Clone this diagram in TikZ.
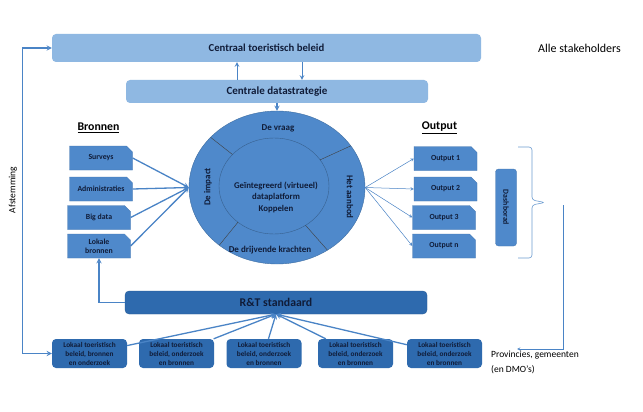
\documentclass[tikz,border=0pt]{standalone}
\usepackage{fontspec}
\setmainfont{Carlito}
\usetikzlibrary{shapes.geometric,shapes.misc,arrows,calc}
\definecolor{paleblue}{RGB}{143,184,226}
\definecolor{midblue}{RGB}{79,137,203}
\definecolor{darkblue}{RGB}{46,106,174}
\definecolor{linkblue}{RGB}{74,132,198}
\definecolor{inktext}{RGB}{16,28,56}

\begin{document}
\begin{tikzpicture}[x=1pt,y=-1pt,
  govbox/.style={fill=paleblue,rounded corners=4pt,inner sep=0pt,align=center,text=inktext,font=\bfseries\fontsize{10.7}{12}\selectfont},
  srcbox/.style={chamfered rectangle,chamfered rectangle corners=north east,chamfered rectangle sep=3pt,fill=midblue,draw=midblue!85!black,line width=0.3pt,minimum width=63pt,minimum height=24pt,inner sep=0pt,align=center,text=inktext,font=\bfseries\fontsize{7.8}{9}\selectfont},
  stdbox/.style={fill=darkblue,draw=darkblue!85!black,line width=0.3pt,rounded corners=4pt,minimum width=302pt,minimum height=23pt,inner sep=0pt,text=inktext,font=\bfseries\fontsize{11.8}{13}\selectfont},
  localbox/.style={fill=darkblue,rounded corners=4pt,minimum width=75pt,minimum height=29pt,inner sep=0pt,align=center,text=inktext,font=\bfseries\fontsize{7.3}{9}\selectfont},
  seclab/.style={text=inktext,inner sep=1pt,font=\bfseries\fontsize{9}{10.5}\selectfont},
  head/.style={inner sep=1pt,font=\bfseries\fontsize{11.8}{14}\selectfont},
  note/.style={inner sep=0pt,font=\fontsize{10.5}{15}\selectfont},
  arr/.style={->,>=stealth,draw=linkblue,line width=1.3pt},
  thinarr/.style={->,>=stealth,draw=linkblue,line width=0.5pt},
  brc/.style={draw=linkblue!80,line width=0.6pt},
  divl/.style={draw=black!75,line width=0.4pt}
]
\useasboundingbox[fill=white] (0,0) rectangle (643,412);
% Central level
\node[govbox,minimum width=429pt,minimum height=28pt] (ctb) at (266.5,48) {Centraal toeristisch beleid};
\node[govbox,minimum width=302pt,minimum height=23pt,font=\bfseries\fontsize{11}{12}\selectfont] (cds) at (277,91.5) {Centrale datastrategie};
\node[note,anchor=west,font=\fontsize{12}{14}\selectfont] (alle) at (538,48) {Alle stakeholders};

% Data platform
\node[ellipse,fill=midblue,draw=midblue!80!black,line width=0.4pt,minimum width=176pt,minimum height=153pt,inner sep=0pt] (plat) at (277,187.5) {};
\node[ellipse,draw=midblue!70!black,line width=0.4pt,minimum width=110pt,minimum height=96pt,inner sep=0pt] (core) at (274,186) {};
\foreach \a in {55,131,221,327}
  \draw[divl] ($(core.center)+(\a:55 and 48)$) -- ($(plat.center)+(\a:88 and 76.5)$);
\node[seclab,align=center,font=\bfseries\fontsize{8.8}{11.5}\selectfont] (coretxt) at (276,197) {Geïntegreerd (virtueel)\\dataplatform\\Koppelen};
\node[seclab] (vraag)  at (278,128) {De vraag};
\node[seclab,rotate=-90] (aanbod) at (350,197) {Het aanbod};
\node[seclab,rotate=90]  (impact) at (208,187) {De impact};
\node[seclab] (kracht) at (270,250) {De drijvende krachten};

% Bronnen
\node[head] (bron) at (98.5,128) {\underline{Bronnen}};
\node[srcbox] (srv) at (101,158)   {Surveys};
\node[srcbox] (adm) at (101,189)   {Administraties};
\node[srcbox] (big) at (99,217.5)  {Big data};
\node[srcbox] (lok) at (99,246)    {Lokale\\bronnen};

% Output
\node[head] (outp) at (439.5,128) {\underline{Output}};
\node[srcbox] (o1) at (445.5,158.5) {Output 1};
\node[srcbox] (o2) at (445.5,189)   {Output 2};
\node[srcbox] (o3) at (444,217.5)   {Output 3};
\node[srcbox] (on) at (444,246)     {Output n};
\node[fill=midblue,draw=midblue!85!black,line width=0.3pt,rounded corners=3pt,rotate=-90,minimum width=77pt,minimum height=21pt,inner sep=0pt,text=inktext,font=\bfseries\fontsize{7.8}{9}\selectfont] (dash) at (506,207.5) {Dashborad};
\draw[brc,rounded corners=3pt] (518,147) -- (532,147) -- (532,200) -- (545,202.5) -- (532,205) -- (532,258) -- (518,258);

% Standard and local level
\node[stdbox] (rt) at (276,302.5) {R\&T standaard};
\node[localbox] (lb1) at (89.5,353.5)  {Lokaal toeristisch\\beleid, bronnen\\en onderzoek};
\node[localbox] (lb2) at (176.5,353.5) {Lokaal toeristisch\\beleid, onderzoek\\en bronnen};
\node[localbox] (lb3) at (264,353.5)   {Lokaal toeristisch\\beleid, onderzoek\\en bronnen};
\node[localbox] (lb4) at (355.5,353.5) {Lokaal toeristisch\\beleid, onderzoek\\en bronnen};
\node[localbox] (lb5) at (444.5,353.5) {Lokaal toeristisch\\beleid, onderzoek\\en bronnen};
\node[note,anchor=north west,align=left,font=\fontsize{9.5}{15}\selectfont] (prov) at (491,351) {Provincies, gemeenten\\(en DMO’s)};
\node[note,rotate=90,font=\fontsize{9.5}{11}\selectfont] (afst) at (13,190) {Afstemming};
\coordinate (fbtop) at (563,205);
\coordinate (fbend) at (517,349);

% Arrows
\draw[arr,line width=1pt] ([xshift=-40pt]cds.north) -- ([xshift=-40pt]cds.north |- ctb.south);
\draw[arr,line width=1pt] ([xshift=25pt]cds.north |- ctb.south) -- ([xshift=25pt]cds.north);
\draw[arr] (cds.south -| plat.north) -- (plat.north);
\draw[arr] (srv.east) -- (plat.west);
\draw[arr] (adm.east) -- (plat.west);
\draw[arr] (big.east) -- (plat.west);
\draw[arr] (lok.east) -- (plat.west);
\draw[thinarr] (plat.east) -- (o1.west);
\draw[thinarr] (plat.east) -- (o2.west);
\draw[thinarr] (plat.east) -- (o3.west);
\draw[thinarr] (plat.east) -- (on.west);
\draw[thinarr] (fbtop) |- (fbend);
\draw[arr] (rt.west) -| (lok.south);
\draw[arr] (lb1) -- (rt.south);
\draw[arr] (lb2) -- (rt.south);
\draw[arr] (lb3) -- (rt.south);
\draw[arr] (lb4) -- (rt.south);
\draw[arr] (lb5) -- (rt.south);
\draw[arr,<->] (ctb.west) -- ++(-29,0) |- (lb1.west);
\end{tikzpicture}
\end{document}
